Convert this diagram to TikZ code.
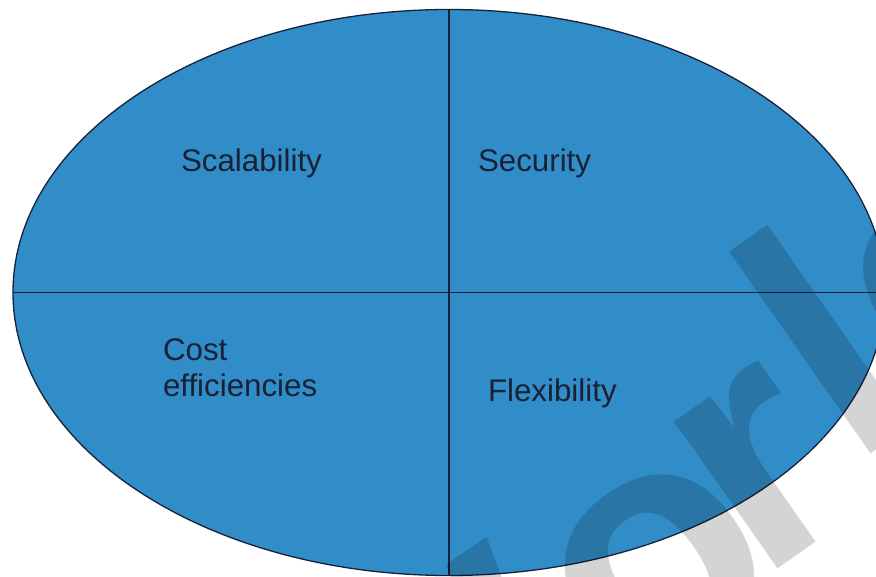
\documentclass[tikz,border=0pt]{standalone}
\usepackage{fontspec}
\setmainfont{Liberation Sans}
\usetikzlibrary{shapes.geometric}
\definecolor{quadblue}{HTML}{318DC8}
\definecolor{edgeline}{HTML}{17213D}
\definecolor{labeltext}{HTML}{1A2035}
\begin{document}
\begin{tikzpicture}[x=1pt,y=-1pt,
  labeltxt/.style={text=labeltext, inner sep=0pt, outer sep=0pt, font=\fontsize{31.3}{36.6}\selectfont},
  wm/.style={text=black, text opacity=0.17, inner sep=0pt, outer sep=0pt, anchor=base west, rotate=35, font=\fontsize{340}{340}\selectfont\bfseries},
  divider/.style={draw=edgeline, line width=1.6pt}]
\useasboundingbox (0,0) rectangle (876,577);
\clip (0,0) rectangle (876,577);
\fill[white] (0,0) rectangle (876,577);
\node[ellipse, draw=edgeline, line width=1.3pt, fill=quadblue, minimum width=872pt, minimum height=566pt, inner sep=0pt, outer sep=0pt] (E) at (449,292.5) {};
\draw[divider] (E.north) -- (E.south);
\draw[divider] (E.west) -- (E.east);
\node[labeltxt, anchor=base west] (scal) at (181,172) {Scalability};
\node[labeltxt, anchor=base west] (secu) at (478,172) {Security};
\node[labeltxt, anchor=north west, align=left] (cost) at (163,338.5) {Cost\\efficiencies};
\node[labeltxt, anchor=base west] (flex) at (488,402) {Flexibility};
\node[wm] (wmW) at (358.5,912) {W};
\node[wm] (wmo) at (626,704) {o};
\node[wm] (wmr) at (758,582) {r};
\node[wm] (wmld) at (851,467.5) {ld};
\end{tikzpicture}
\end{document}
